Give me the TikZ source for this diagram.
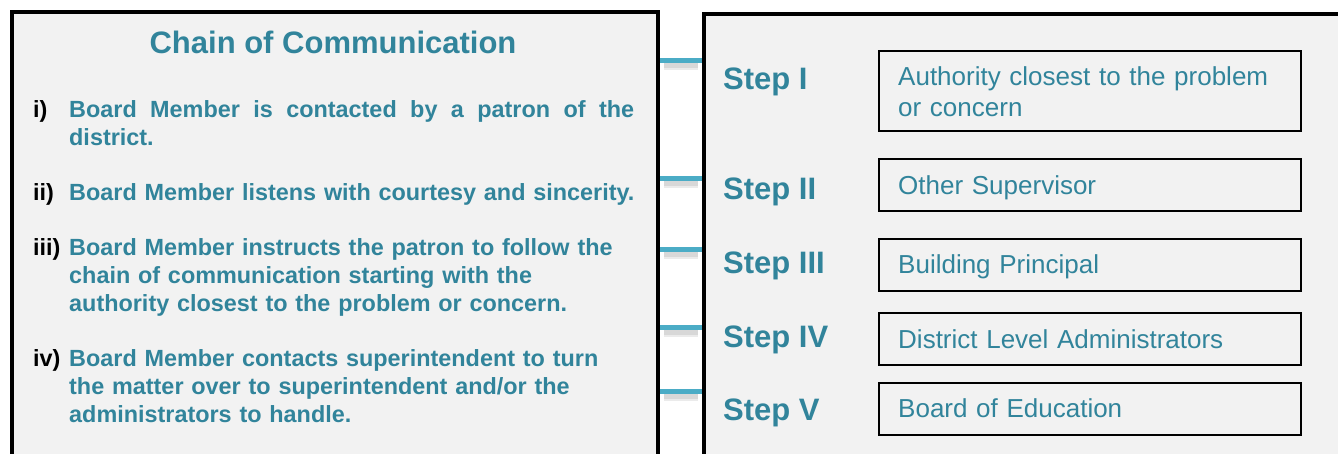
\documentclass[tikz,border=0pt]{standalone}
\usepackage{fontspec}
\setmainfont{Liberation Sans}
\usetikzlibrary{calc}
\definecolor{tealtext}{HTML}{31849B}
\definecolor{tickc}{HTML}{4BACC6}
\definecolor{panelbg}{HTML}{F2F2F2}
\begin{document}
\begin{tikzpicture}[x=1pt,y=-1pt,
  panel/.style={draw=black, line width=4pt, fill=panelbg, inner sep=0pt, anchor=north west},
  stepbox/.style={draw=black, line width=2.2pt, fill=panelbg, inner sep=0pt, anchor=north west, minimum width=422pt},
  tickline/.style={draw=tickc, line width=5pt},
  tickshadow/.style={draw=black, opacity=0.08, line width=7pt},
  titletext/.style={font=\fontsize{31}{36}\selectfont\bfseries, text=tealtext, inner sep=0pt, anchor=base},
  itemtext/.style={font=\fontsize{23.4}{28}\selectfont\bfseries, text=tealtext, inner sep=0pt, anchor=base west, text width=580pt, align=left},
  itemjust/.style={font=\fontsize{23.4}{28.5}\selectfont\bfseries, text=tealtext, inner sep=0pt, anchor=base west, text width=565pt, align=justify},
  itemlabel/.style={font=\fontsize{23.4}{28}\selectfont\bfseries, text=black, inner sep=0pt, anchor=base west},
  steplabel/.style={font=\fontsize{31}{36}\selectfont\bfseries, text=tealtext, inner sep=0pt, anchor=base west},
  boxtext/.style={font=\fontsize{26}{31.5}\selectfont, text=tealtext, inner sep=0pt, anchor=base west, text width=400pt, align=left},
]
\useasboundingbox (0,0) rectangle (1338,453);
\clip (0,0) rectangle (1338,453);
\fill[white] (0,0) rectangle (1338,453);

% panels
\node[panel, minimum width=646pt, minimum height=520pt] (left) at (10,10) {};
\node[panel, minimum width=700pt, minimum height=520pt] (right) at (702,11.5) {};

% connectors between panels
\foreach \y [count=\i] in {60,178,249,327,391} {
  \coordinate (t\i) at (0,\y);
  \draw[tickshadow] ($(left.east |- t\i)+(4,4)$) -- ($(right.west |- t\i)+(-4,4)$);
  \draw[tickshadow] ($(left.east |- t\i)+(4,6)$) -- ($(right.west |- t\i)+(-4,6)$);
  \draw[tickline] (left.east |- t\i) -- (right.west |- t\i);
}

% left panel text
\node[titletext] (title) at (333,53) {Chain of Communication};

\node[itemlabel] (l1) at (33,117) {i)};
\node[itemjust] (i1) at (69,117) {Board Member is contacted by a patron of the\linebreak district.};

\node[itemlabel] (l2) at (33,200) {ii)};
\node[itemtext] (i2) at (69,200) {Board Member listens with courtesy and sincerity.};

\node[itemlabel] (l3) at (33,255) {iii)};
\node[itemtext] (i3) at (69,255) {Board Member instructs the patron to follow the\\chain of communication starting with the\\authority closest to the problem or concern.};

\node[itemlabel] (l4) at (33,366) {iv)};
\node[itemtext] (i4) at (69,366) {Board Member contacts superintendent to turn\\the matter over to superintendent and/or the\\administrators to handle.};

% right panel
\node[steplabel] (s1) at (723,89) {Step I};
\node[steplabel] (s2) at (723,199) {Step II};
\node[steplabel] (s3) at (723,273) {Step III};
\node[steplabel] (s4) at (723,347) {Step IV};
\node[steplabel] (s5) at (723,420) {Step V};

\node[stepbox, minimum height=80pt] (b1) at (878,50) {};
\node[stepbox, minimum height=52pt] (b2) at (878,158) {};
\node[stepbox, minimum height=52pt] (b3) at (878,238) {};
\node[stepbox, minimum height=52pt] (b4) at (878,312) {};
\node[stepbox, minimum height=52pt] (b5) at (878,382) {};

\node[boxtext] (x1) at (898,85) {Authority closest to the problem\\or concern};
\node[boxtext] (x2) at (898,194) {Other Supervisor};
\node[boxtext] (x3) at (898,273) {Building Principal};
\node[boxtext] (x4) at (898,348) {District Level Administrators};
\node[boxtext] (x5) at (898,417) {Board of Education};
\end{tikzpicture}
\end{document}
